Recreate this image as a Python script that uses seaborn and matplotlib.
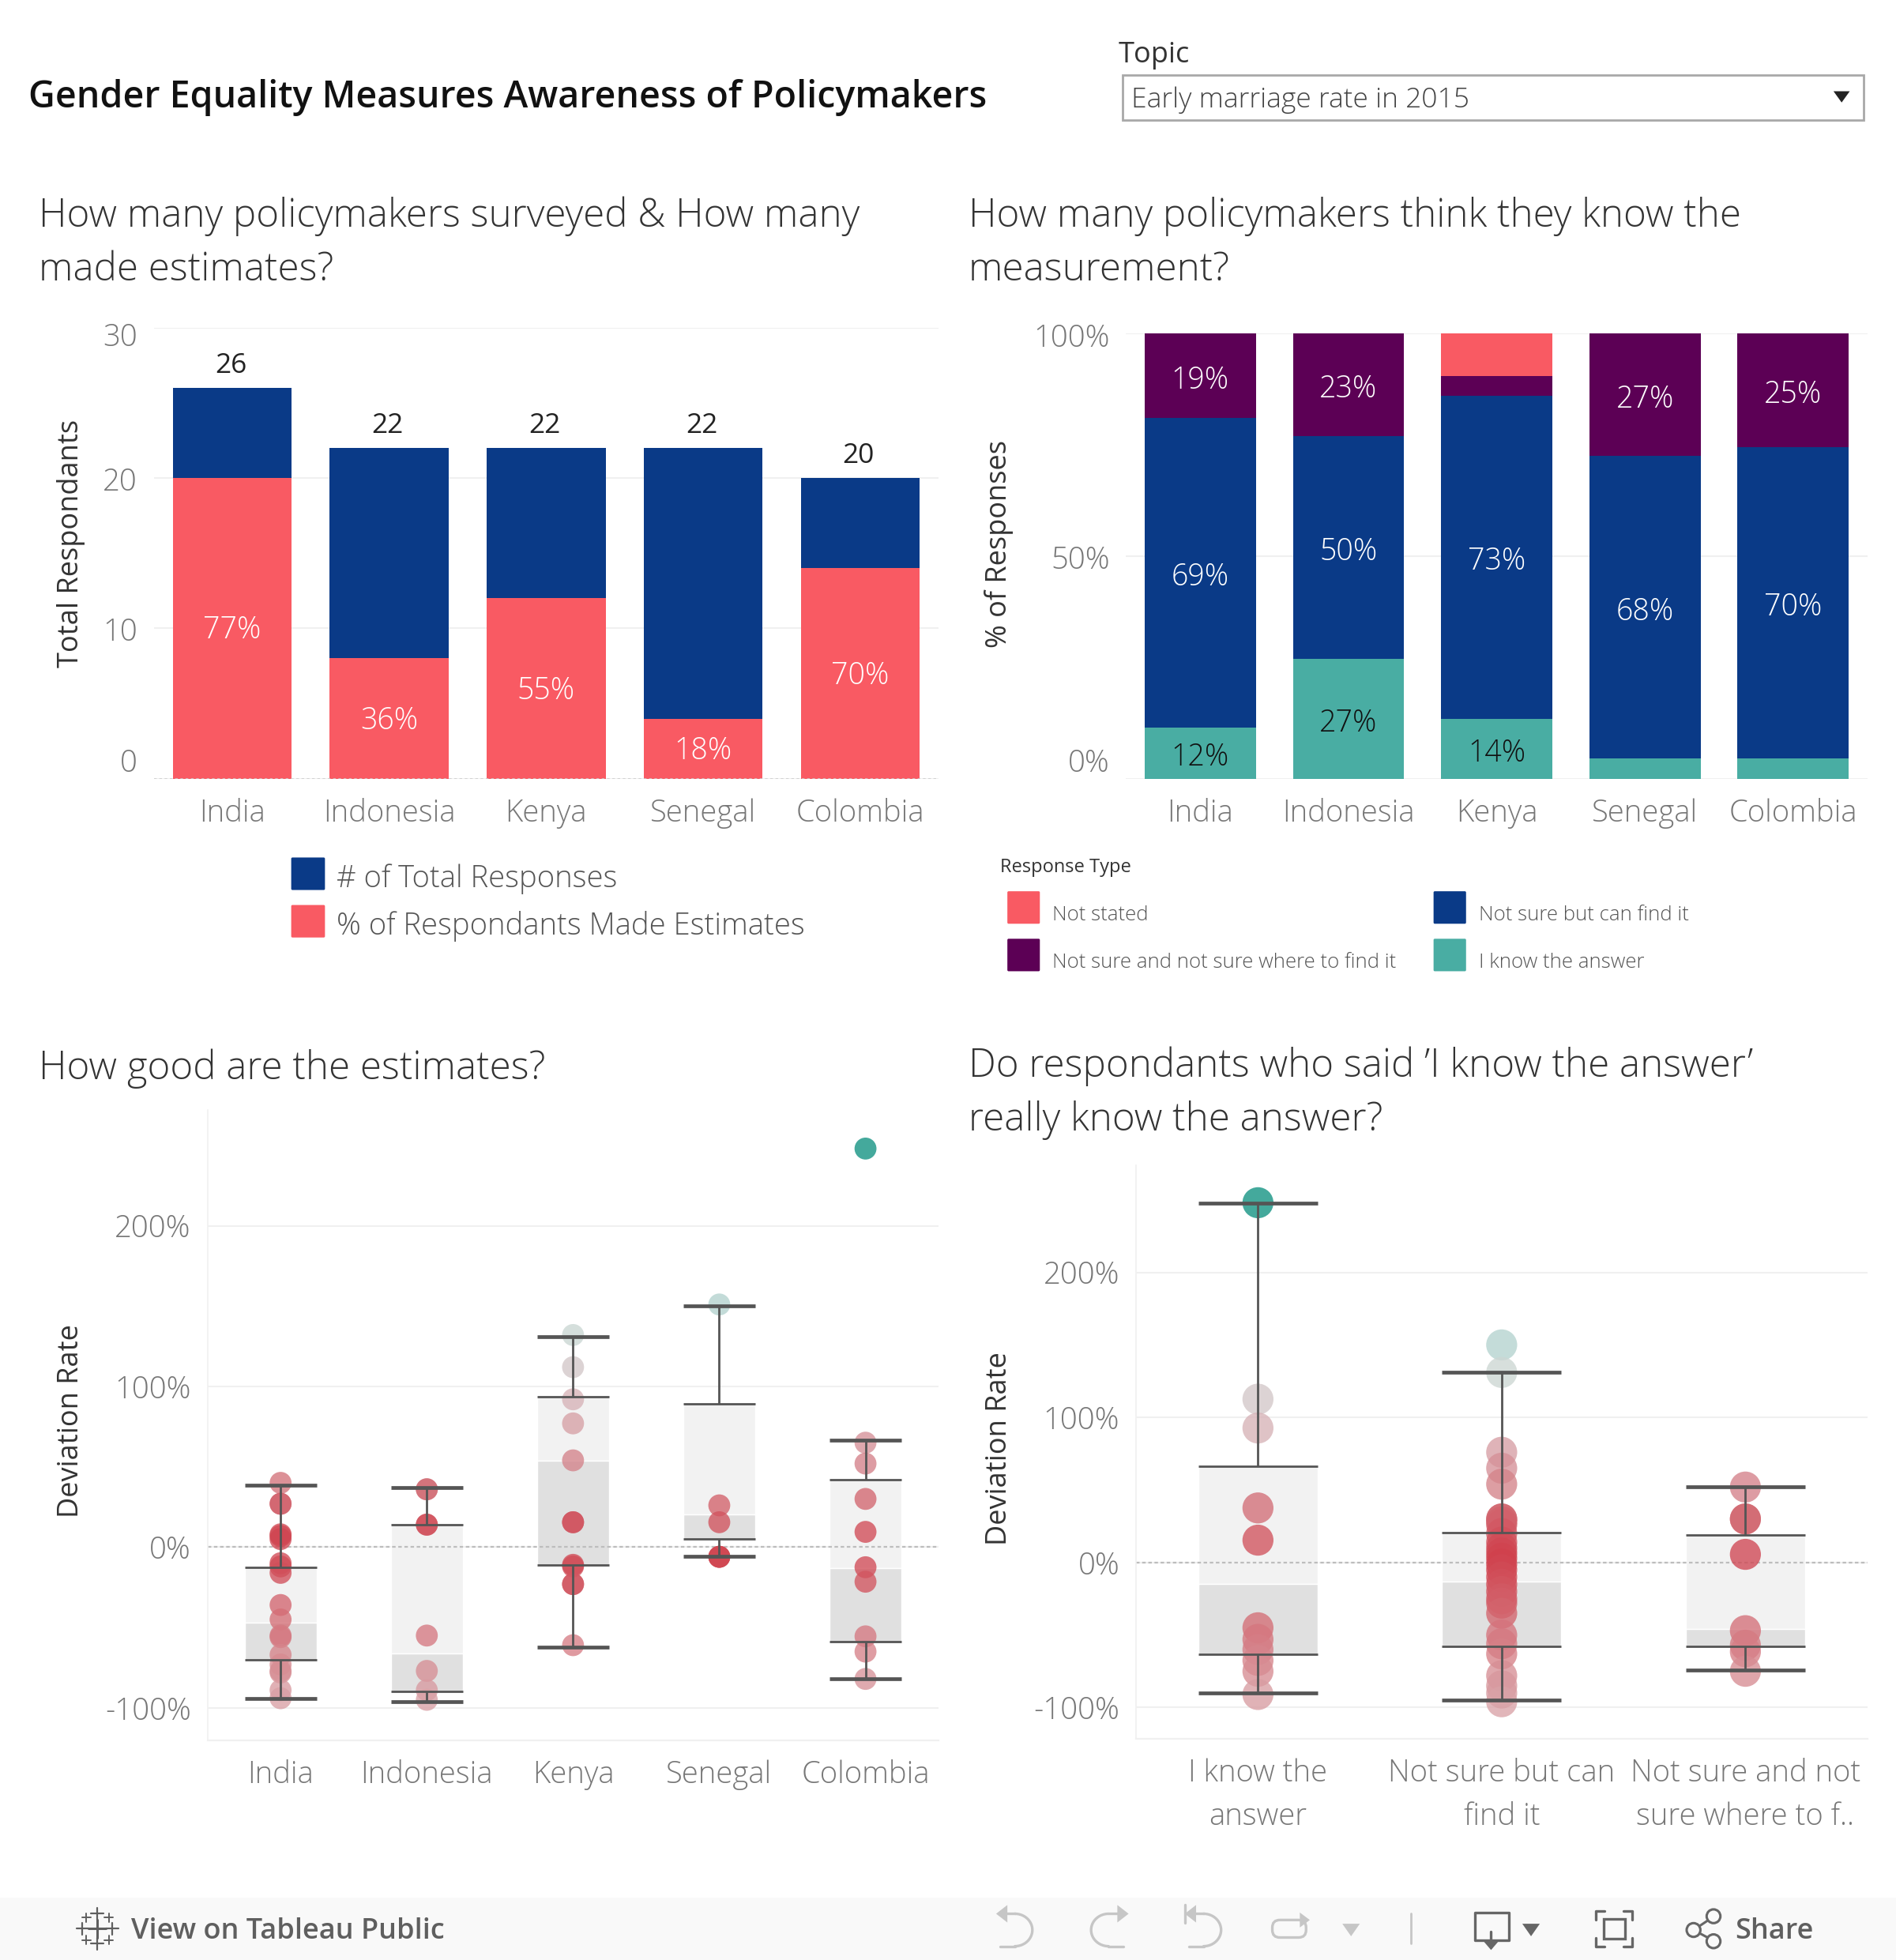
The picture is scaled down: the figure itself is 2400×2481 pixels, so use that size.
import matplotlib
matplotlib.use('Agg')
import matplotlib.pyplot as plt
import seaborn as sb
import numpy as np
import pandas as pd
from matplotlib.colors import LinearSegmentedColormap
from matplotlib.patches import Rectangle, FancyBboxPatch, Circle, Polygon
from matplotlib.transforms import ScaledTranslation

countries = ['India', 'Indonesia', 'Kenya', 'Senegal', 'Colombia']
total_resp = [26, 22, 22, 22, 20]
made_est = [20, 8, 12, 4, 14]
est_labels = ['77%', '36%', '55%', '18%', '70%']

know = [11.5, 27, 13.5, 4.5, 4.5]
can_find = [69.5, 50, 72.5, 68, 70]
no_idea = [19, 23, 4.5, 27.5, 25.5]
not_stated = [0, 0, 9.5, 0, 0]
know_labels = ['12%', '27%', '14%', '', '']
can_find_labels = ['69%', '50%', '73%', '68%', '70%']
no_idea_labels = ['19%', '23%', '', '27%', '25%']

# whisker top, q3, median, q1, whisker low
country_box = {
    'India': [38.6, -12.5, -47, -70, -94],
    'Indonesia': [37, 14, -66, -90, -96],
    'Kenya': [131, 93.5, 54, -11, -62],
    'Senegal': [150, 89, 20.5, 5, -5.6],
    'Colombia': [66.5, 42, -13, -59, -82],
}
country_points = {
    'India': [40, 27, 27, 8, 7, 5, -10, -12, -16, -36, -45, -55, -56, -67, -73, -77, -78, -89, -94],
    'Indonesia': [36, 36, 14, 14, -55, -77, -89, -95],
    'Kenya': [132, 112, 92, 77, 54, 15.5, 15.5, -11, -12, -23, -23, -61],
    'Senegal': [151, 26, 15.5, -6, -6, -6],
    'Colombia': [248, 65, 52, 30, 9.5, -12.5, -21.5, -55.5, -65, -82],
}

response_types = ['I know the\nanswer', 'Not sure but can\nfind it', 'Not sure and not\nsure where to f..']
response_box = {
    response_types[0]: [247.6, 66.6, -14.8, -63, -90],
    response_types[1]: [131, 20.7, -13, -58, -95],
    response_types[2]: [52.4, 19, -46, -58, -74],
}
response_points = {
    response_types[0]: [248, 112.6, 92.7, 37.6, 15.4, -45, -53, -60, -67.5, -75, -91],
    response_types[1]: [150, 131, 76, 65, 54, 30, 30, 28, 26, 20, 14, 10, 6.5, 3, -1, -5, -10, -15, -20, -25, -28, -35,
                        -50, -56, -63, -78, -85, -90, -96],
    response_types[2]: [52, 30, 30, 5.6, -47, -57, -61.5, -75],
}

BLUE = '#0a3a87'
RED = '#f95a63'
PURPLE = '#5c0055'
TEAL = '#49ada3'
TICK = '#777777'
GRID = '#f0f0f0'
FONT = 'Open Sans'

W, H = 1517, 1568
sb.set_style('white')
plt.rcParams['font.family'] = [FONT, 'DejaVu Sans']
plt.rcParams['font.weight'] = 'light'

dev_cmap = LinearSegmentedColormap.from_list('dev', [
    (0.0, '#d9a5aa'), (0.2857, '#d0404c'), (0.571, '#d8bcc0'),
    (0.657, '#cdd6d3'), (0.714, '#b4d3cf'), (1.0, '#0d9080')])

fig = plt.figure(figsize=(24, 24.81), dpi=100, facecolor='white')

overlay = fig.add_axes([0, 0, 1, 1], zorder=5)
overlay.set_xlim(0, W)
overlay.set_ylim(H, 0)
overlay.axis('off')


def panel(left, top, right, bottom):
    ax = fig.add_axes([left / W, 1 - bottom / H, (right - left) / W, (bottom - top) / H], zorder=1)
    ax.set_axisbelow(True)
    for s in ax.spines.values():
        s.set_visible(False)
    return ax


def style_axis(ax, n, ylabel, ylabel_x, ylabel_y, ticks, labels, shifts, spine=False):
    ax.set_xlim(-0.5, n - 0.5)
    ax.set_xlabel('')
    ax.set_yticks(ticks)
    ax.set_yticklabels(labels)
    ax.yaxis.grid(True, color=GRID, lw=1.5)
    ax.xaxis.grid(False)
    ax.set_xticks(np.arange(n + 1) - 0.5, minor=True)
    ax.tick_params(axis='x', which='major', length=0, labelsize=27.5, labelcolor=TICK, pad=18)
    ax.tick_params(axis='x', which='minor', length=7, width=1.2, color=GRID)
    ax.tick_params(axis='y', length=7, width=1.2, color=GRID, labelsize=27.5, labelcolor=TICK, pad=8)
    for lab, dy in zip(ax.get_yticklabels(), shifts):
        lab.set_transform(lab.get_transform() + ScaledTranslation(0, -dy / 72, fig.dpi_scale_trans))
    ax.set_ylabel(ylabel, fontsize=26, color='#333333', fontweight='normal')
    ax.yaxis.set_label_coords(ylabel_x, ylabel_y, transform=overlay.transData)
    if spine:
        ax.spines['left'].set_visible(True)
        ax.spines['left'].set_color(GRID)
        ax.spines['left'].set_linewidth(1.2)
        ax.spines['bottom'].set_visible(True)
        ax.spines['bottom'].set_color(GRID)
        ax.spines['bottom'].set_linewidth(1.6)


def box_panel(ax, cats, boxes, points, size):
    frame = pd.DataFrame([{'pos': i, 'dev': v} for i, c in enumerate(cats) for v in points[c]])
    for i, c in enumerate(cats):
        top, q3, med, q1, low = boxes[c]
        ax.bar(i, q3 - med, bottom=med, width=0.49, color='#f2f2f2', zorder=1.5)
        ax.bar(i, med - q1, bottom=q1, width=0.49, color='#e0e0e0', zorder=1.5)
    ax.axhline(0, color='#bdbdbd', lw=1.6, ls=(0, (2, 1.5)), zorder=2)
    sb.scatterplot(data=frame, x='pos', y='dev', hue='dev', palette=dev_cmap, hue_norm=(-100, 250),
                   s=size, alpha=0.78, linewidth=0, legend=False, zorder=3, ax=ax)
    for i, c in enumerate(cats):
        top, q3, med, q1, low = boxes[c]
        ax.vlines(i, q3, top, color='#555555', lw=2, zorder=4)
        ax.vlines(i, low, q1, color='#555555', lw=2, zorder=4)
        ax.hlines([q3, q1], i - 0.245, i + 0.245, color='#555555', lw=2, zorder=4)
        ax.hlines([top, low], i - 0.245, i + 0.245, color='#555555', lw=3.4, zorder=4)
    ax.set_xticks(range(len(cats)))
    ax.set_xticklabels(cats, linespacing=1.55)


# --- surveyed / estimates
ax1 = panel(123, 262, 751, 623)
sb.barplot(x=countries, y=total_resp, color=BLUE, saturation=1, width=0.757, linewidth=0, ax=ax1)
sb.barplot(x=countries, y=made_est, color=RED, saturation=1, width=0.757, linewidth=0, ax=ax1)
ax1.set_ylim(0, 30)
style_axis(ax1, 5, 'Total Respondants', 68, 435, [0, 10, 20, 30], ['0', '10', '20', '30'], [-17, 1, 1, 6])
ax1.axhline(0, color='#cccccc', lw=1.2, ls=(0, (2, 2)), zorder=4)
for i, (t, e, lab) in enumerate(zip(total_resp, made_est, est_labels)):
    ax1.text(i - 0.01, t + 0.55, str(t), ha='center', va='bottom', fontsize=25.5, color='#222222', fontweight='normal')
    ax1.annotate(lab, (i, e / 2), xytext=(0, -2), textcoords='offset points', ha='center', va='center',
                 fontsize=27, color='white')

# --- know the measurement
ax2 = panel(901, 267, 1494, 623)
layers = [(not_stated, RED, None), (no_idea, PURPLE, no_idea_labels),
          (can_find, BLUE, can_find_labels), (know, TEAL, know_labels)]
stack_top = np.sum([know, can_find, no_idea, not_stated], axis=0)
for vals, col, labs in layers:
    sb.barplot(x=countries, y=stack_top, color=col, saturation=1, width=0.75, linewidth=0, ax=ax2)
    if labs:
        for i, lab in enumerate(labs):
            ax2.annotate(lab, (i, stack_top[i] - vals[i] / 2), xytext=(0, -4), textcoords='offset points',
                         ha='center', va='center', fontsize=27,
                         color='#111111' if col == TEAL else 'white')
    stack_top = stack_top - np.array(vals)
ax2.set_ylim(0, 100)
style_axis(ax2, 5, '% of Responses', 811, 435, [0, 50, 100], ['0%', '50%', '100%'], [-17, 1, 1.5])

# --- how good are the estimates
ax3 = panel(166, 888, 751, 1392)
box_panel(ax3, countries, country_box, country_points, 400)
ax3.set_ylim(-120, 272)
style_axis(ax3, 5, 'Deviation Rate', 68, 1137, [-100, 0, 100, 200], ['-100%', '0%', '100%', '200%'], [0, 0, 0, 0], spine=True)

# --- know the answer
ax4 = panel(909, 932, 1494, 1391)
box_panel(ax4, response_types, response_box, response_points, 800)
ax4.set_ylim(-121.5, 274)
style_axis(ax4, 3, 'Deviation Rate', 811, 1159, [-100, 0, 100, 200], ['-100%', '0%', '100%', '200%'], [0, 0, 0, 0], spine=True)

# --- titles
overlay.text(23, 78, 'Gender Equality Measures Awareness of Policymakers', fontsize=33.5, fontweight='semibold',
             color='#111111', va='center')
for x, y, txt in [(31, 173, 'How many policymakers surveyed & How many'), (31, 216, 'made estimates?'),
                  (775, 173, 'How many policymakers think they know the'), (775, 216, 'measurement?'),
                  (31, 855, 'How good are the estimates?'),
                  (775, 853, 'Do respondants who said ’I know the answer’'), (775, 896, 'really know the answer?')]:
    overlay.text(x, y, txt, fontsize=35.5, color='#333333', va='center')

# --- topic filter
overlay.text(895, 44, 'Topic', fontsize=26, color='#333333', va='center', fontweight='normal')
overlay.add_patch(Rectangle((898, 60), 593, 36, fc='white', ec='#a8a8a8', lw=2))
overlay.text(905, 80, 'Early marriage rate in 2015', fontsize=25.5, color='#444444', va='center')
overlay.add_patch(Polygon([(1467, 73), (1480, 73), (1473.5, 82)], fc='#222222', ec='none'))

# --- legends
for y, col, txt in [(699, BLUE, '# of Total Responses'), (737, RED, '% of Respondants Made Estimates')]:
    overlay.add_patch(FancyBboxPatch((233, y - 13), 27, 26, boxstyle='round,pad=0,rounding_size=1', fc=col, ec='none'))
    overlay.text(269, y + 4, txt, fontsize=27.5, color='#555555', va='center')
overlay.text(800, 694, 'Response Type', fontsize=17, color='#333333', va='center', fontweight='normal')
for x, y, col, txt in [(806, 726, RED, 'Not stated'), (806, 764, PURPLE, 'Not sure and not sure where to find it'),
                       (1147, 726, BLUE, 'Not sure but can find it'), (1147, 764, TEAL, 'I know the answer')]:
    overlay.add_patch(FancyBboxPatch((x, y - 13), 26, 26, boxstyle='round,pad=0,rounding_size=1', fc=col, ec='none'))
    overlay.text(x + 36, y + 6, txt, fontsize=18.5, color='#555555', va='center')

# --- footer
overlay.add_patch(Rectangle((0, 1518), W, 50, fc='#f9f9f9', ec='none'))
overlay.text(105, 1545, 'View on Tableau Public', fontsize=26, fontweight='semibold', color='#5f5f5f', va='center')
overlay.text(1388, 1545, 'Share', fontsize=26, fontweight='semibold', color='#5f5f5f', va='center')
for cx, cy, r, lw in [(78, 1543, 15, 2.2), (78, 1531, 5, 1.6), (78, 1555, 5, 1.6), (66, 1543, 5, 1.6), (90, 1543, 5, 1.6),
                      (69, 1534, 3.5, 1.4), (87, 1534, 3.5, 1.4), (69, 1552, 3.5, 1.4), (87, 1552, 3.5, 1.4)]:
    if r == 15:
        overlay.plot([cx - 7, cx + 7], [cy, cy], color='#5f5f5f', lw=lw)
        overlay.plot([cx, cx], [cy - 7, cy + 7], color='#5f5f5f', lw=lw)
    else:
        overlay.plot([cx - r, cx + r], [cy, cy], color='#5f5f5f', lw=lw)
        overlay.plot([cx, cx], [cy - r, cy + r], color='#5f5f5f', lw=lw)

LIGHT = '#c6c6c6'
DARK = '#666666'
t = np.linspace(-np.pi / 2, np.pi / 2, 30)
# undo / redo / revert / refresh
overlay.plot(812 + 14 * np.cos(t), 1544 + 13 * np.sin(t), color=LIGHT, lw=2.4)
overlay.plot([812, 800], [1531, 1531], color=LIGHT, lw=2.4)
overlay.plot([812, 800], [1557, 1557], color=LIGHT, lw=2.4)
overlay.add_patch(Polygon([(797, 1531), (806, 1524), (806, 1538)], fc=LIGHT, ec='none'))
overlay.plot(887 - 14 * np.cos(t), 1544 + 13 * np.sin(t), color=LIGHT, lw=2.4)
overlay.plot([887, 899], [1531, 1531], color=LIGHT, lw=2.4)
overlay.plot([887, 899], [1557, 1557], color=LIGHT, lw=2.4)
overlay.add_patch(Polygon([(903, 1531), (894, 1524), (894, 1538)], fc=LIGHT, ec='none'))
overlay.plot(963 + 14 * np.cos(t), 1544 + 13 * np.sin(t), color=LIGHT, lw=2.4)
overlay.plot([963, 951], [1531, 1531], color=LIGHT, lw=2.4)
overlay.plot([963, 951], [1557, 1557], color=LIGHT, lw=2.4)
overlay.add_patch(Polygon([(948, 1531), (957, 1524), (957, 1538)], fc=LIGHT, ec='none'))
overlay.plot([948, 948], [1524, 1538], color=LIGHT, lw=2.4)
overlay.add_patch(FancyBboxPatch((1018, 1536), 27, 14, boxstyle='round,pad=0,rounding_size=6', fc='none', ec=LIGHT, lw=2.4))
overlay.add_patch(Polygon([(1048, 1536), (1040, 1530), (1040, 1542)], fc=LIGHT, ec='none'))
overlay.add_patch(Polygon([(1074, 1539), (1088, 1539), (1081, 1549)], fc=LIGHT, ec='none'))
overlay.plot([1129, 1129], [1531, 1555], color=LIGHT, lw=2)
# download
overlay.plot([1193, 1180, 1180, 1207, 1207, 1193], [1552, 1552, 1530, 1530, 1552, 1552], color=DARK, lw=2.4)
overlay.plot([1193, 1193], [1545, 1558], color=DARK, lw=2.4)
overlay.add_patch(Polygon([(1187, 1553), (1199, 1553), (1193, 1560)], fc=DARK, ec='none'))
overlay.add_patch(Polygon([(1218, 1539), (1232, 1539), (1225, 1549)], fc=DARK, ec='none'))
# fullscreen
overlay.add_patch(Rectangle((1283, 1535), 17, 16, fc='none', ec=DARK, lw=2.4))
for sx, sy in [(1277, 1529), (1306, 1529), (1277, 1557), (1306, 1557)]:
    dx = 7 if sx < 1290 else -7
    dy = 7 if sy < 1540 else -7
    overlay.plot([sx + dx, sx, sx], [sy, sy, sy + dy], color=DARK, lw=2.4)
# share
overlay.plot([1370, 1355, 1370], [1534, 1544, 1552], color=DARK, lw=2.2)
for cx, cy, r in [(1371, 1533, 5.5), (1355, 1544, 5.5), (1371, 1553, 5.5)]:
    overlay.add_patch(Circle((cx, cy), r, fc='#f9f9f9', ec=DARK, lw=2.2, zorder=6))

plt.savefig('out.png', dpi=100)
plt.close()
